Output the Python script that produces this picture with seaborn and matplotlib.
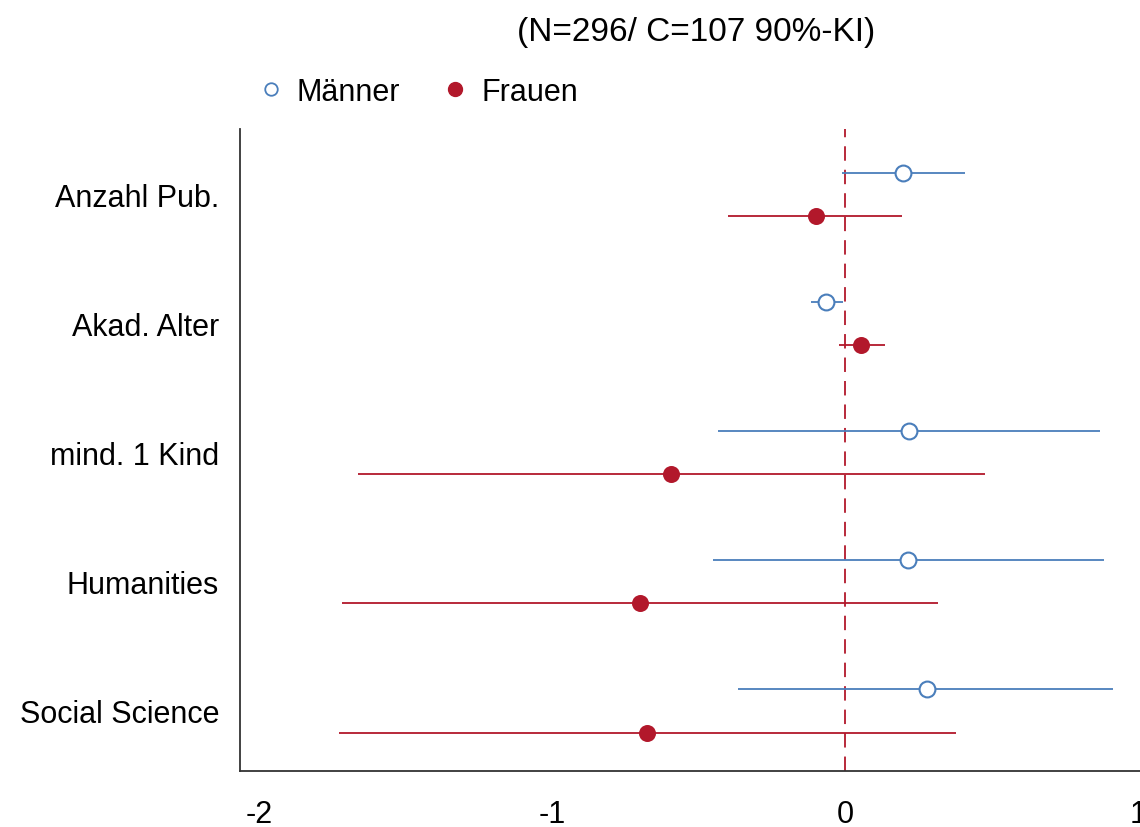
import matplotlib
matplotlib.use("Agg")
import matplotlib.pyplot as plt
from matplotlib.lines import Line2D
import seaborn as sns
import pandas as pd

categories = ["Anzahl Pub.", "Akad. Alter", "mind. 1 Kind", "Humanities", "Social Science"]

maenner_est = [0.198, -0.065, 0.218, 0.215, 0.280]
maenner_lo = [-0.010, -0.116, -0.433, -0.450, -0.365]
maenner_hi = [0.410, -0.007, 0.870, 0.884, 0.915]

frauen_est = [-0.100, 0.055, -0.594, -0.700, -0.676]
frauen_lo = [-0.400, -0.020, -1.662, -1.717, -1.727]
frauen_hi = [0.195, 0.137, 0.478, 0.317, 0.379]

x_ticks = [-2, -1, 0, 1]

blue = "#4a7ebb"
red = "#b2182b"

sns.set_style("white")
plt.rcParams["font.family"] = ["Liberation Sans", "DejaVu Sans"]
plt.rcParams["text.color"] = "black"
plt.rcParams["xtick.color"] = "black"
plt.rcParams["ytick.color"] = "black"

rows = []
for i, c in enumerate(categories):
    rows.append({"cat": c, "pos": i - 0.167, "group": "Männer",
                 "est": maenner_est[i], "lo": maenner_lo[i], "hi": maenner_hi[i]})
    rows.append({"cat": c, "pos": i + 0.167, "group": "Frauen",
                 "est": frauen_est[i], "lo": frauen_lo[i], "hi": frauen_hi[i]})
df = pd.DataFrame(rows)

fig = plt.figure(figsize=(11.4, 8.28), dpi=100)
ax = fig.add_axes([0.2105, 0.0676, 0.7895, 0.7754])

ax.axvline(0, color=red, linestyle=(0, (8, 5)), linewidth=1.3, zorder=1)

m = df[df.group == "Männer"]
f = df[df.group == "Frauen"]
ax.hlines(m.pos, m.lo, m.hi, color=blue, linewidth=1.3, zorder=2)
ax.hlines(f.pos, f.lo, f.hi, color=red, linewidth=1.3, zorder=2)

sns.scatterplot(data=m, x="est", y="pos", ax=ax, s=130, marker="o",
                facecolor="white", edgecolor=blue, linewidth=1.5, zorder=3)
sns.scatterplot(data=f, x="est", y="pos", ax=ax, s=150, marker="o",
                color=red, edgecolor=red, linewidth=0, zorder=3)

ax.set_xlim(-2.065, 1.007)
ax.set_ylim(4.465, -0.505)
ax.set_xticks(x_ticks)
ax.set_xticklabels([str(t) for t in x_ticks])
ax.set_yticks(range(len(categories)))
ax.set_yticklabels(categories)
ax.set_xlabel("")
ax.set_ylabel("")
ax.tick_params(axis="y", length=0, pad=15, labelsize=22)
ax.tick_params(axis="x", length=0, pad=20, labelsize=22)

sns.despine(ax=ax)
for s in ["left", "bottom"]:
    ax.spines[s].set_color("#333333")
    ax.spines[s].set_linewidth(1.3)

handles = [
    Line2D([], [], marker="o", linestyle="", markersize=9, markerfacecolor="white",
           markeredgecolor=blue, markeredgewidth=1.3, label="Männer"),
    Line2D([], [], marker="o", linestyle="", markersize=10, markerfacecolor=red,
           markeredgecolor=red, label="Frauen"),
]
fig.legend(handles=handles, loc="center left", bbox_to_anchor=(0.2, 0.888), ncol=2,
           frameon=False, fontsize=22, handletextpad=0.35, columnspacing=1.3,
           handlelength=1.0)

fig.text(0.611, 0.961, "(N=296/ C=107 90%-KI)", ha="center", va="center", fontsize=24)

fig.savefig("out.png", dpi=100)
